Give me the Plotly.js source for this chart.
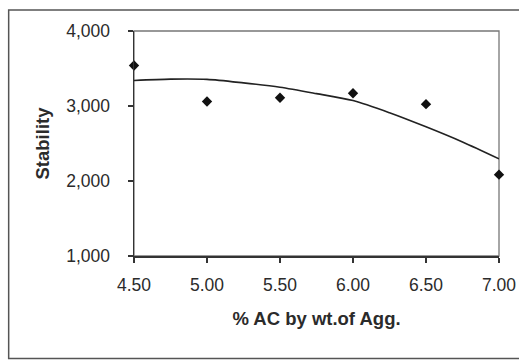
<!DOCTYPE html>
<html>
<head>
<meta charset="utf-8">
<script src="https://cdn.plot.ly/plotly-3.0.1.min.js"></script>
<style>
  html, body { margin: 0; padding: 0; background: #fff; }
  #chart { width: 519px; height: 362px; }
</style>
</head>
<body>
<div id="chart"></div>
<script>
// Asphalt content (% by weight of aggregate) and measured Marshall stability
const acContent = [4.5, 5.0, 5.5, 6.0, 6.5, 7.0];
const stability = [3540, 3060, 3110, 3170, 3025, 2085];

// Fitted trend curve sampled along the x range
const trendAc = [4.5, 4.75, 5.0, 5.25, 5.5, 5.75, 6.0, 6.25, 6.5, 6.75, 7.0];
const trendStability = [3340, 3358, 3355, 3308, 3250, 3165, 3072, 2910, 2722, 2520, 2295];

const xTickVals = [4.5, 5.0, 5.5, 6.0, 6.5, 7.0];
const yTickVals = [1000, 2000, 3000, 4000];

const W = 519, H = 362;
const M = { l: 133.5, r: 20, t: 30.5, b: 105.5 };
const pw = W - M.l - M.r, ph = H - M.t - M.b;
// convert pixel position to paper coordinates
const px = x => (x - M.l) / pw;
const py = y => (H - M.b - y) / ph;

const font = "Liberation Sans, Arial, sans-serif";
const ink = "#2b2b2b";

const traces = [
  {
    x: trendAc, y: trendStability,
    type: "scatter", mode: "lines",
    line: { color: "#222", width: 1.6, shape: "spline", smoothing: 0.8 },
    hoverinfo: "skip", cliponaxis: false
  },
  {
    x: acContent, y: stability,
    type: "scatter", mode: "markers",
    marker: { symbol: "diamond", size: 8, color: "#111" },
    cliponaxis: false
  }
];

const layout = {
  width: W, height: H,
  margin: M,
  paper_bgcolor: "#fff", plot_bgcolor: "#fff",
  showlegend: false,
  font: { family: font, color: ink, size: 17.5 },
  xaxis: {
    range: [4.5, 7.0], tickvals: xTickVals, tickformat: ".2f",
    showgrid: false, zeroline: false,
    showline: true, linecolor: "#333", linewidth: 1.5,
    ticks: "outside", ticklen: 5, tickcolor: "#333", tickwidth: 1.2,
    tickfont: { size: 17.5, color: ink },
    ticklabelstandoff: 7,
    title: { text: "% AC by wt.of Agg.", font: { size: 18.5, color: ink, weight: "bold" }, standoff: 18 }
  },
  yaxis: {
    range: [1000, 4000], tickvals: yTickVals, tickformat: ",",
    showgrid: false, zeroline: false,
    showline: true, linecolor: "#333", linewidth: 1.5,
    ticks: "outside", ticklen: 5, tickcolor: "#333", tickwidth: 1.2,
    tickfont: { size: 17.5, color: ink },
    ticklabelstandoff: 14,
    title: { text: "Stability", font: { size: 18.5, color: ink, weight: "bold" }, standoff: 11 }
  },
  shapes: [
    // plot area frame (top and right edges show in grey)
    { type: "rect", xref: "paper", yref: "paper", x0: 0, x1: 1, y0: 0, y1: 1,
      line: { color: "#777", width: 1.3 }, layer: "below" },
    // outer chart border
    { type: "rect", xref: "paper", yref: "paper",
      x0: px(8), x1: px(526), y0: py(359.5), y1: py(9.5),
      line: { color: "#555", width: 1.5 }, layer: "below" }
  ]
};

Plotly.newPlot("chart", traces, layout, { staticPlot: true, displayModeBar: false });
</script>
</body>
</html>
